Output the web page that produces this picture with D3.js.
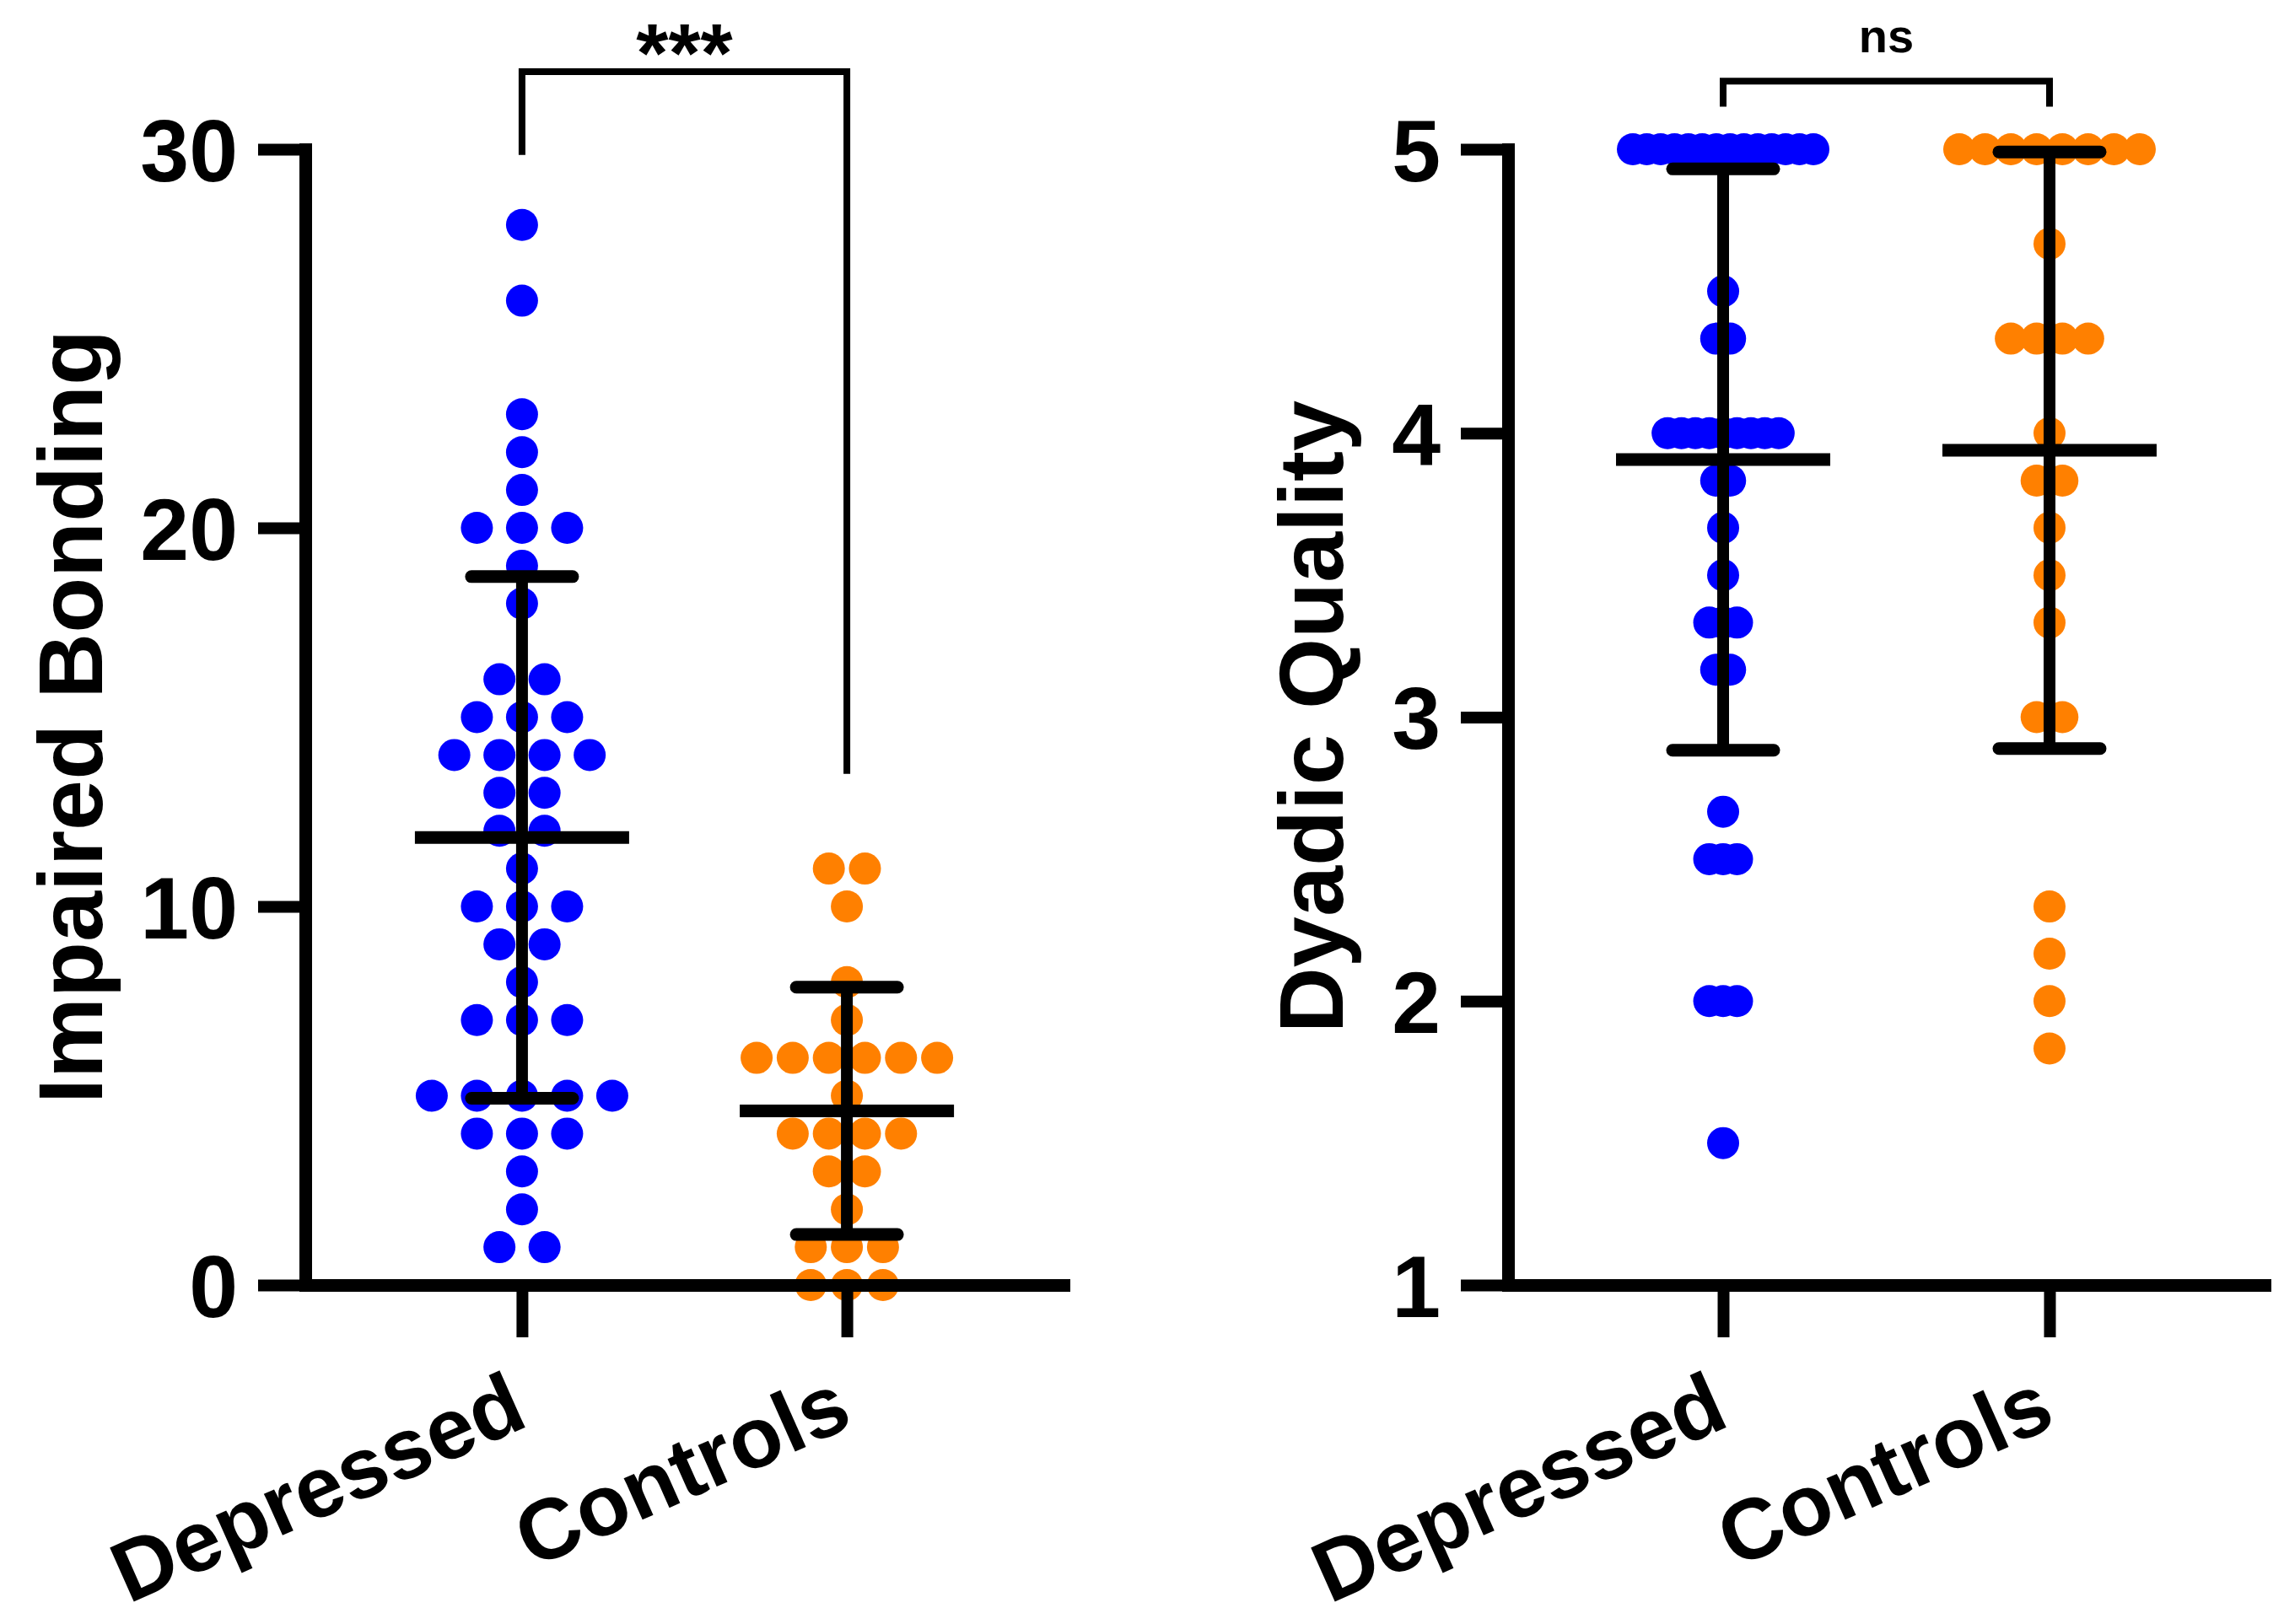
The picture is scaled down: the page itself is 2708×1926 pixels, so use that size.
<!DOCTYPE html>
<html>
<head>
<meta charset="utf-8">
<script src="https://cdn.jsdelivr.net/npm/d3@7"></script>
<style>
body { margin: 0; background: #fff; }
text { font-family: "Liberation Sans", Arial, sans-serif; font-weight: bold; fill: #000; }
</style>
</head>
<body>
<div class="featured"></div>
<script>
var groups = ["Depressed", "Controls"];
var groupColors = ["#0000ff", "#ff8000"];

// Impaired Bonding scores
var bondDepressed = [28, 26, 23, 22, 21, 20, 20, 20, 19, 18, 16, 16, 15, 15, 15,
  14, 14, 14, 14, 13, 13, 12, 12, 11, 10, 10, 10, 9, 9, 8, 7, 7, 7,
  5, 5, 5, 5, 5, 4, 4, 4, 3, 2, 1, 1];
var bondControls = [11, 11, 10, 8, 7, 6, 6, 6, 6, 6, 6, 5, 4, 4, 4, 4,
  3, 3, 2, 1, 1, 1, 0, 0, 0];
var bondTicks = [0, 10, 20, 30];

// Dyadic Quality scores
var dyadDepressed = [5, 5, 5, 5, 5, 5, 5, 5, 5, 5, 5, 5, 5, 5,
  4.5, 4.333, 4.333, 4, 4, 4, 4, 4, 4, 4, 4, 4, 3.833, 3.833, 3.667, 3.5,
  3.333, 3.333, 3.333, 3.167, 3.167, 2.667, 2.5, 2.5, 2.5, 2, 2, 2, 1.5];
var dyadControls = [5, 5, 5, 5, 5, 5, 5, 5, 4.667, 4.333, 4.333, 4.333, 4.333,
  4, 3.833, 3.833, 3.667, 3.5, 3.333, 3, 3, 2.333, 2.167, 2, 1.833];
var dyadTicks = [1, 2, 3, 4, 5];

var svg = d3.select(".featured").append("svg")
  .attr("width", 2708)
  .attr("height", 1926);

var R = 19;          // dot radius
var maxRow = 252;    // widest spread of one row of dots

function panel(o) {
  var g = svg.append("g");
  var y = d3.scaleLinear().domain(o.domain).range([1524, 177]);
  var x = d3.scalePoint().domain(groups).range([o.left, o.right]).padding(o.pad);

  // dots, spread sideways when values tie
  o.series.forEach(function(vals, i) {
    var rows = d3.rollups(vals, function(v) { return v.length; }, function(d) { return d; });
    var maxN = d3.max(rows, function(r) { return r[1]; });
    var step = maxN > 1 ? (maxRow - 2 * R) / (maxN - 1) : 0;
    var pts = [];
    rows.forEach(function(r) {
      for (var k = 0; k < r[1]; k++) pts.push({ v: r[0], dx: (k - (r[1] - 1) / 2) * step });
    });
    g.append("g").selectAll("circle")
      .data(pts)
      .enter().append("circle")
      .attr("cx", function(d) { return x(groups[i]) + d.dx; })
      .attr("cy", function(d) { return y(d.v); })
      .attr("r", R)
      .attr("fill", groupColors[i]);
  });

  // mean +/- SD
  o.series.forEach(function(vals, i) {
    var cx = x(groups[i]);
    var m = d3.mean(vals), sd = d3.deviation(vals);
    g.append("line")
      .attr("x1", cx).attr("x2", cx)
      .attr("y1", y(m - sd)).attr("y2", y(m + sd))
      .attr("stroke", "#000").attr("stroke-width", 14);
    [m - sd, m + sd].forEach(function(v) {
      g.append("line")
        .attr("x1", cx - 60).attr("x2", cx + 60)
        .attr("y1", y(v)).attr("y2", y(v))
        .attr("stroke", "#000").attr("stroke-width", 15)
        .attr("stroke-linecap", "round");
    });
    g.append("line")
      .attr("x1", cx - 127).attr("x2", cx + 127)
      .attr("y1", y(m)).attr("y2", y(m))
      .attr("stroke", "#000").attr("stroke-width", 15);
  });

  // axes
  var yAxis = g.append("g")
    .attr("transform", "translate(" + o.left + ",0)")
    .call(d3.axisLeft(y).tickValues(o.ticks).tickFormat(d3.format("d"))
      .tickSize(56).tickSizeOuter(0).tickPadding(24));
  yAxis.selectAll("line").attr("stroke-width", 14);
  yAxis.select(".domain").attr("stroke-width", 15).attr("stroke-linecap", "square");
  yAxis.selectAll("text")
    .attr("dy", "0.36em")
    .style("font-size", "104px")
    .style("font-family", "'Liberation Sans', Arial, sans-serif")
    .style("font-weight", "bold");

  var xAxis = g.append("g")
    .attr("transform", "translate(0,1524)")
    .call(d3.axisBottom(x).tickSize(62).tickSizeOuter(0).tickFormat(""));
  xAxis.selectAll("line").attr("stroke-width", 14);
  xAxis.select(".domain").attr("stroke-width", 15).attr("stroke-linecap", "square");

  groups.forEach(function(c) {
    g.append("text")
      .attr("transform", "translate(" + (x(c) + 10) + ",1690) rotate(-24)")
      .attr("text-anchor", "end")
      .style("font-size", "102px")
      .text(c);
  });

  g.append("text")
    .attr("transform", "translate(" + o.titleX + ",850) rotate(-90)")
    .attr("text-anchor", "middle")
    .style("font-size", "108px")
    .text(o.title);

  // significance bracket
  var x1 = x(groups[0]), x2 = x(groups[1]);
  g.append("path")
    .attr("d", "M" + x1 + "," + y(o.legs[0]) + "V" + y(o.top) + "H" + x2 + "V" + y(o.legs[1]))
    .attr("fill", "none").attr("stroke", "#000").attr("stroke-width", 8);
  g.append("text")
    .attr("x", (x1 + x2) / 2)
    .attr("y", y(o.top) - o.labelGap)
    .attr("text-anchor", "middle")
    .style("font-size", o.labelSize + "px")
    .text(o.label);
}

panel({
  left: 362, right: 1261, pad: 0.667,
  domain: [0, 30], ticks: bondTicks,
  series: [bondDepressed, bondControls],
  title: "Impaired Bonding", titleX: 121,
  top: 32.05, legs: [29.85, 13.5],
  label: "***", labelSize: 98, labelGap: -12
});

panel({
  left: 1788, right: 2685, pad: 0.659,
  domain: [1, 5], ticks: dyadTicks,
  series: [dyadDepressed, dyadControls],
  title: "Dyadic Quality", titleX: 1592,
  top: 5.24, legs: [5.15, 5.15],
  label: "ns", labelSize: 56, labelGap: 34
});
</script>
</body>
</html>
